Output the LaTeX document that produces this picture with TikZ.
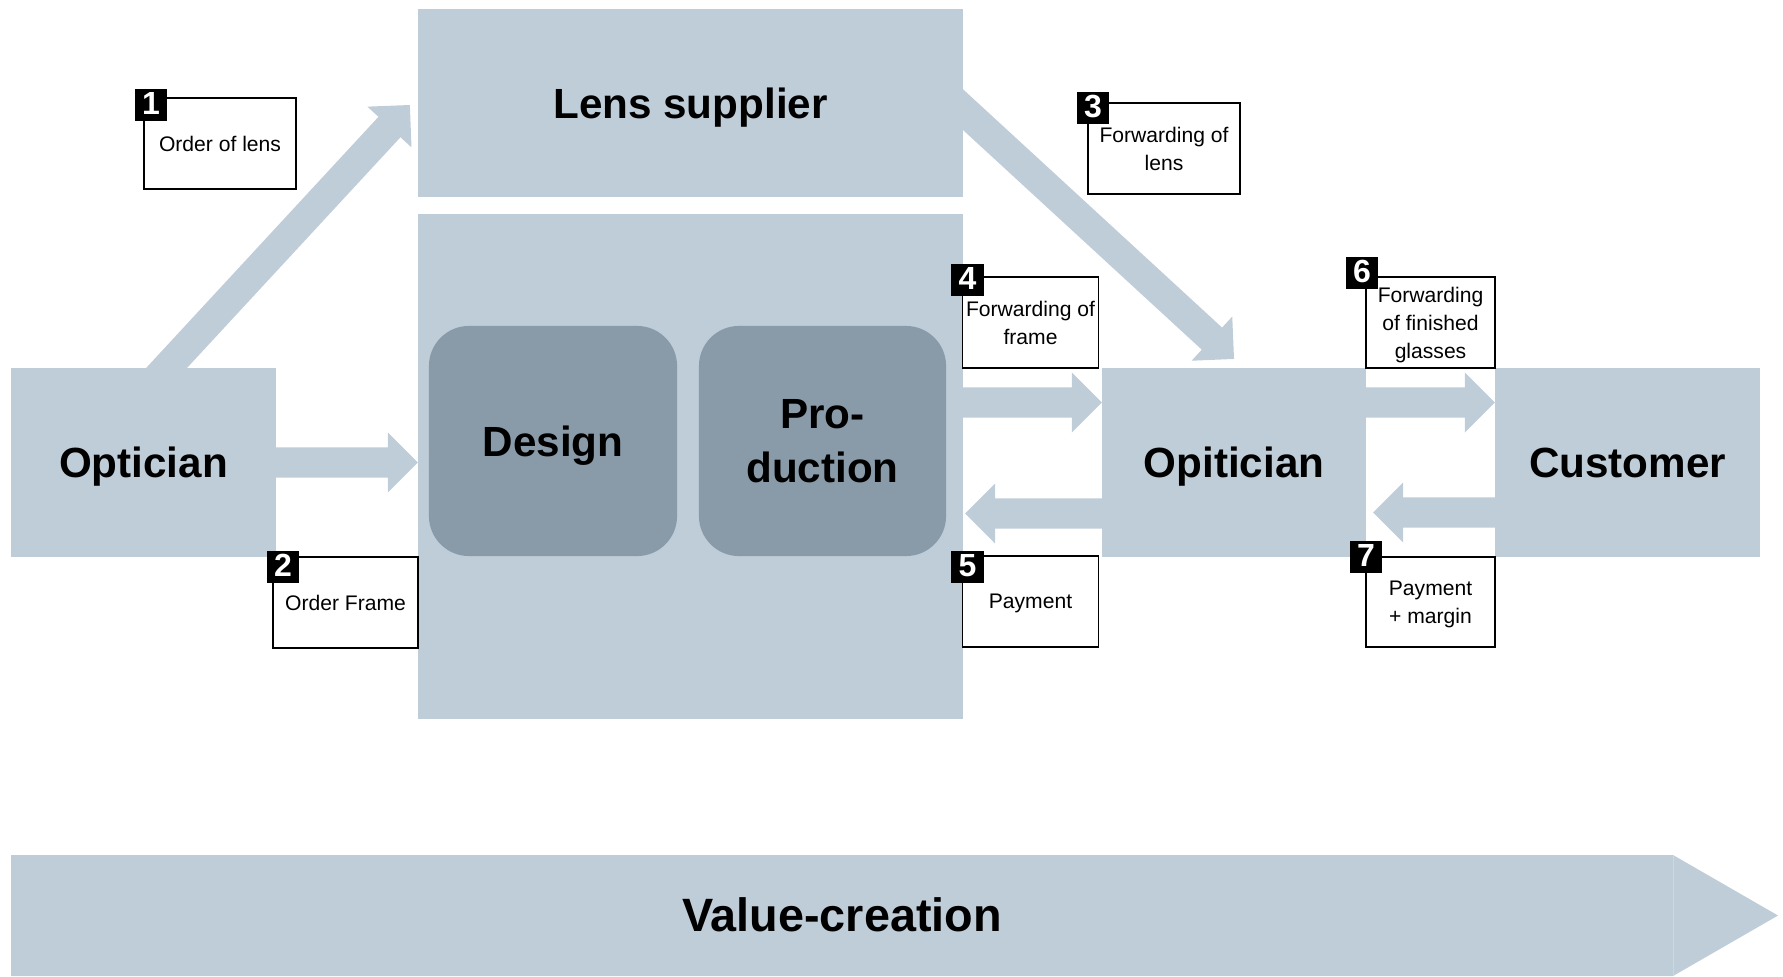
\documentclass[tikz,border=0pt]{standalone}
\usepackage{fontspec}
\setmainfont{Liberation Sans}
\usetikzlibrary{calc}

\definecolor{paneblue}{RGB}{191,205,216}
\definecolor{stepblue}{RGB}{137,154,169}
\definecolor{seamblue}{RGB}{204,215,224}

\pgfdeclarelayer{back}
\pgfsetlayers{back,main}

% Block arrow from #1 to #2: shaft 30 units wide, head 60 wide and 30 long
\newcommand\flowarrow[2]{%
  \coordinate (fa-h) at ($(#2)!0.30cm!(#1)$);
  \fill[flow] ($(#1)!0.15cm!90:(#2)$) -- ($(fa-h)!0.15cm!90:(#2)$)
    -- ($(fa-h)!0.30cm!90:(#2)$) -- (#2)
    -- ($(fa-h)!0.30cm!-90:(#2)$) -- ($(fa-h)!0.15cm!-90:(#2)$)
    -- ($(#1)!0.15cm!-90:(#2)$) -- cycle;%
}

\begin{document}
\begin{tikzpicture}[x=0.01cm,y=-0.01cm,
  pane/.style={fill=paneblue, draw=none, inner sep=0pt, outer sep=0pt},
  bigtxt/.style={font=\fontsize{12}{15.6}\selectfont\bfseries, align=center, text depth=0pt},
  stage/.style={pane, bigtxt, minimum width=2.65cm, minimum height=1.89cm},
  stepbox/.style={fill=stepblue, rounded corners=0.4cm, inner sep=0pt, outer sep=0pt,
    bigtxt, minimum height=2.30cm},
  note/.style={draw=black, line width=0.45pt, fill=white, inner sep=0pt, outer sep=0pt,
    align=center, font=\fontsize{6}{8}\selectfont, text depth=0pt, minimum height=0.91cm},
  numtag/.style={fill=black, text=white, inner sep=0pt, outer sep=0pt, minimum size=0.32cm,
    font=\fontsize{9.1}{9.1}\selectfont\bfseries, text height=6.6pt, text depth=1.1pt,
    anchor=north west},
  flow/.style={fill=paneblue}
]
\useasboundingbox (0,0) rectangle (1783,976);

% Actors and the frame producer
\node[pane, minimum width=5.45cm, minimum height=5.05cm] (prod) at (690.5,466.5) {};
\node[pane, bigtxt, minimum width=5.45cm, minimum height=1.88cm] (lens) at (690.5,103) {Lens supplier};
\node[stage] (opL) at (143.5,462.5) {Optician};
\node[stage, minimum width=2.64cm] (opM) at (1234,462.5) {Opitician};
\node[stage] (cust) at (1627.5,462.5) {Customer};

\node[stepbox, minimum width=2.48cm] (design) at (553,441) {Design};
\node[stepbox, minimum width=2.47cm] (making) at (822.5,441) {Pro-\\duction};

% Flows between the actors
\coordinate (a1s) at ($(opL.north)+(-6.5,32)$);
\coordinate (a1e) at ($(lens.west)+(-8,2)$);
\coordinate (a2s) at ($(opL.east)+(-20,0)$);
\coordinate (a2e) at (opL.east -| prod.west);
\coordinate (a3s) at ($(lens.east)+(-40,-30)$);
\coordinate (a3e) at ($(opM.north)+(0,-9)$);
\coordinate (a4s) at ($(opM.west -| prod.east)+(-20,-60)$);
\coordinate (a4e) at ($(opM.west)+(0,-60)$);
\coordinate (a5s) at ($(opM.west)+(20,51)$);
\coordinate (a5e) at ($(opM.west -| prod.east)+(2,51)$);
\coordinate (a6s) at ($(opM.east)+(-20,-60)$);
\coordinate (a6e) at ($(cust.west)+(0,-60)$);
\coordinate (a7s) at ($(cust.west)+(20,50)$);
\coordinate (a7e) at ($(opM.east)+(7,50)$);

\begin{pgfonlayer}{back}
  \flowarrow{a1s}{a1e}
  \flowarrow{a2s}{a2e}
  \flowarrow{a3s}{a3e}
  \flowarrow{a4s}{a4e}
  \flowarrow{a5s}{a5e}
  \flowarrow{a6s}{a6e}
  \flowarrow{a7s}{a7e}
\end{pgfonlayer}

% Step labels
\node[note, minimum width=1.52cm] (b1) at (220,143.5) {Order of lens};
\node[note, minimum width=1.45cm] (b2) at (345.5,602.5) {Order Frame};
\node[note, minimum width=1.52cm] (b3) at (1164,148.5) {Forwarding of\\lens};
\node[note, minimum width=1.36cm] (b4) at (1030.5,322.5) {Forwarding of\\frame};
\node[note, minimum width=1.36cm] (b5) at (1030.5,601.5) {Payment};
\node[note, minimum width=1.29cm] (b6) at (1430.5,322.5) {Forwarding\\of finished\\glasses};
\node[note, minimum width=1.29cm, minimum height=0.90cm] (b7) at (1430.5,602) {Payment\\+ margin};

\node[numtag] (n1) at ($(b1.north west)+(-9,-9)$) {1};
\node[numtag] (n2) at ($(b2.north west)+(-6,-6)$) {2};
\node[numtag] (n3) at ($(b3.north west)+(-11,-11)$) {3};
\node[numtag] (n4) at ($(b4.north west)+(-11,-13)$) {4};
\node[numtag] (n5) at ($(b5.north west)+(-11,-5)$) {5};
\node[numtag] (n6) at ($(b6.north west)+(-20,-20)$) {6};
\node[numtag] (n7) at ($(b7.north west)+(-16,-16)$) {7};

% Value-creation chevron along the bottom
\fill[paneblue] (11,855) -- (1673,855) -- (1778,915.5) -- (1673,976) -- (11,976) -- cycle;
\draw[seamblue, line width=0.3pt] (1673,855) -- (1673,976);
\node[font=\fontsize{13.3}{15}\selectfont\bfseries] (vc) at (842,915) {Value-creation};
\end{tikzpicture}
\end{document}
